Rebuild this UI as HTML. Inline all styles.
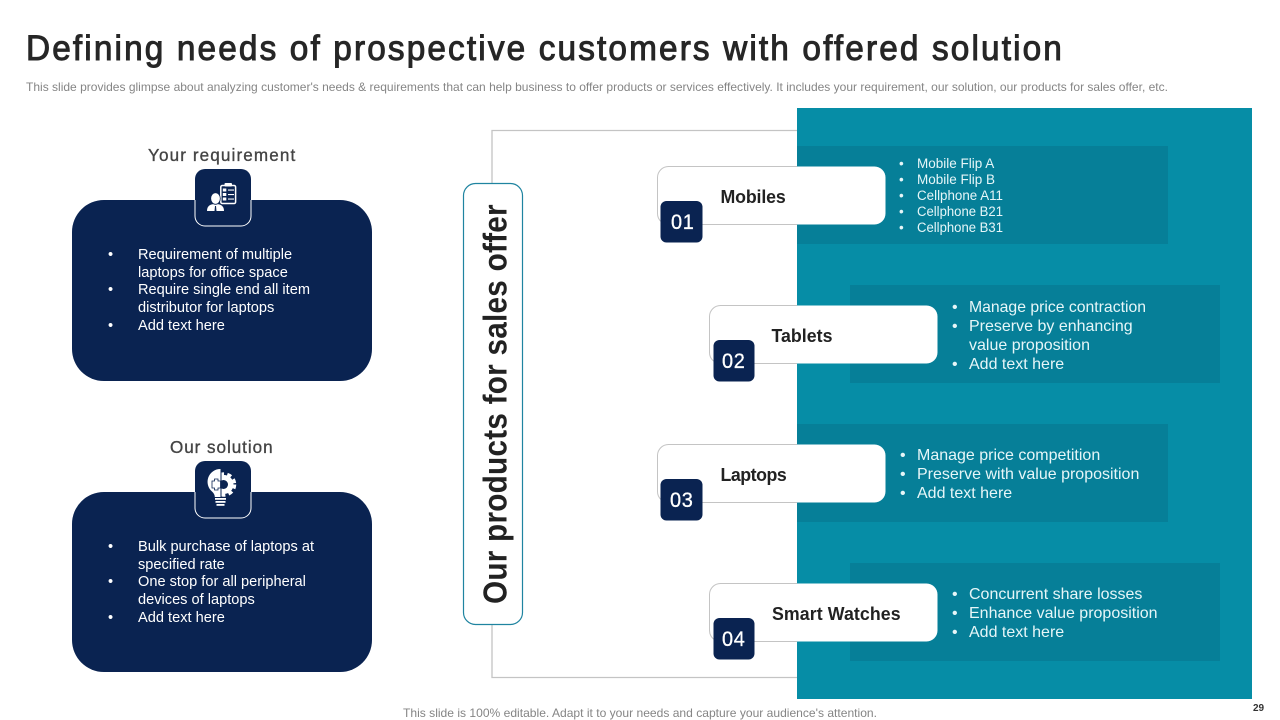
<!DOCTYPE html>
<html lang="en">
<head>
<meta charset="utf-8">
<title>Defining needs of prospective customers</title>
<style>
html,body{margin:0;padding:0;background:#fff;width:1280px;height:720px;overflow:hidden}
svg{display:block}
text{font-family:"Liberation Sans",Arial,sans-serif}
.l{fill:#fff;font-size:14.6px}
.m{fill:#e6f6f8;font-size:16px}
.s{fill:#e6f6f8;font-size:13.5px}
.h{fill:#222;font-size:18.5px;font-weight:bold}
.n{fill:#fff;font-size:21px;stroke:#fff;stroke-width:.3px}
.hd{fill:#444;font-size:18px;stroke:#444;stroke-width:.35px}
</style>
</head>
<body>
<svg width="1280" height="720" viewBox="0 0 1280 720" xmlns="http://www.w3.org/2000/svg">
<defs>
<clipPath id="leftOfPanel"><rect x="0" y="0" width="797" height="720"/></clipPath>
<clipPath id="gearHalf"><rect x="221.500" y="460" width="20" height="50"/></clipPath>
</defs>
<rect width="1280" height="720" fill="#fff"/>

<text transform="translate(26,60) scale(.94,1)" font-size="35.500" fill="#262626" stroke="#262626" stroke-width="1" textLength="1102" lengthAdjust="spacing">Defining needs of prospective customers with offered solution</text>
<text x="26" y="91" font-size="12" fill="#858585" textLength="1142" lengthAdjust="spacingAndGlyphs">This slide provides glimpse about analyzing customer's needs &amp; requirements that can help business to offer products or services effectively.  It includes your requirement, our solution, our products for sales offer, etc.</text>

<!-- Teal panel -->
<rect x="797" y="108" width="455" height="591" fill="#068da6"/>
<rect x="797" y="146" width="371" height="98" fill="#067f98"/>
<rect x="850" y="285" width="370" height="98" fill="#067f98"/>
<rect x="797" y="424" width="371" height="98" fill="#067f98"/>
<rect x="850" y="563" width="370" height="98" fill="#067f98"/>

<!-- Connector -->
<path d="M492 183V130.500H797M492 625V677.500H797" fill="none" stroke="#c4c4c4" stroke-width="1.300"/>

<!-- Vertical pill -->
<rect x="463.500" y="183.500" width="59" height="441" rx="12" fill="#fff" stroke="#1f84a0" stroke-width="1.200"/>
<text transform="translate(506.500,604) rotate(-90) scale(.9,1)" font-size="33" font-weight="bold" fill="#222" textLength="444" lengthAdjust="spacing">Our products for sales offer</text>

<!-- Left cards -->
<text transform="translate(148,161) scale(.95,1)" class="hd" textLength="155" lengthAdjust="spacing">Your requirement</text>
<rect x="72" y="200" width="300" height="181" rx="32" fill="#0a2351"/>
<rect x="195" y="169" width="56" height="57" rx="10" fill="#0a2351" stroke="#fff" stroke-width="1"/>
<rect x="194" y="168" width="58" height="31" fill="#fff"/>
<path d="M195 200V179a10 10 0 0 1 10-10h36a10 10 0 0 1 10 10v21Z" fill="#0a2351"/>
<!-- requirement icon -->
<g>
 <rect x="220.800" y="185.500" width="14.800" height="18" rx="1.500" fill="#0a2351" stroke="#fff" stroke-width="1.500"/>
 <rect x="224.500" y="183" width="7.500" height="3.500" rx="1" fill="#fff"/>
 <rect x="222.800" y="188.500" width="3.500" height="3" fill="#fff"/><rect x="228" y="189.500" width="6" height="1.100" fill="#fff"/>
 <rect x="222.800" y="193" width="3.500" height="3" fill="#fff"/><rect x="228" y="194" width="6" height="1.100" fill="#fff"/>
 <rect x="222.800" y="197.500" width="3.500" height="3" fill="#fff"/><rect x="228" y="198.500" width="6" height="1.100" fill="#fff"/>
 <path d="M207 211c0-5 3-7 8.500-7s8.500 2 8.500 7Z" fill="#fff"/>
 <ellipse cx="215.500" cy="198.500" rx="4.800" ry="5.800" fill="#fff" stroke="#0a2351" stroke-width=".8"/>
 <path d="M215 206h1l.5 5h-2Z" fill="#0a2351"/>
</g>
<text x="108" y="259" class="l">•</text>
<text x="138" y="259" class="l">Requirement of multiple</text>
<text x="138" y="277" class="l">laptops for office space</text>
<text x="108" y="294" class="l">•</text>
<text x="138" y="294" class="l">Require single end all item</text>
<text x="138" y="312" class="l">distributor for laptops</text>
<text x="108" y="330" class="l">•</text>
<text x="138" y="330" class="l">Add text here</text>

<text transform="translate(170,453) scale(.95,1)" class="hd" textLength="108" lengthAdjust="spacing">Our solution</text>
<rect x="72" y="492" width="300" height="180" rx="32" fill="#0a2351"/>
<rect x="195" y="461" width="56" height="57" rx="10" fill="#0a2351" stroke="#fff" stroke-width="1"/>
<rect x="194" y="460" width="58" height="32" fill="#fff"/>
<path d="M195 492V471a10 10 0 0 1 10-10h36a10 10 0 0 1 10 10v21Z" fill="#0a2351"/>
<!-- bulb/gear icon -->
<g>
 <path d="M220.500 469a12.800 12.800 0 0 0-8.500 22.500c1.800 1.600 2.800 3.500 2.800 5.500h5.700Z" fill="#fff"/>
 <rect x="215" y="498" width="11" height="1.800" fill="#fff"/>
 <rect x="215.500" y="501" width="10" height="1.800" fill="#fff"/>
 <rect x="216.500" y="504" width="8" height="1.800" fill="#fff"/>
 <g clip-path="url(#gearHalf)">
  <circle cx="224" cy="484.500" r="9.500" fill="#fff"/>
  <circle cx="224" cy="484.500" r="10.500" fill="none" stroke="#fff" stroke-width="3.500" stroke-dasharray="4.200 3.300"/>
 </g>
 <circle cx="223.500" cy="484.500" r="4.500" fill="#0a2351"/>
 <path d="M212 481h2.500v-2h3.500v2h2.500v7h-2.500v2h-3.500v-2h-2.500Z" fill="#fff" stroke="#0a2351" stroke-width=".8"/>
</g>
<text x="108" y="551" class="l">•</text>
<text x="138" y="551" class="l">Bulk purchase of laptops at</text>
<text x="138" y="569" class="l">specified rate</text>
<text x="108" y="586" class="l">•</text>
<text x="138" y="586" class="l">One stop for all peripheral</text>
<text x="138" y="604" class="l">devices of laptops</text>
<text x="108" y="622" class="l">•</text>
<text x="138" y="622" class="l">Add text here</text>

<!-- Card 1 -->
<rect x="657.500" y="166.500" width="228" height="58" rx="11" fill="#fff"/>
<rect x="657.500" y="166.500" width="228" height="58" rx="11" fill="none" stroke="#c4c4c4" stroke-width="1" clip-path="url(#leftOfPanel)"/>
<rect x="660.500" y="201" width="42" height="41.500" rx="6" fill="#0a2351"/>
<text transform="translate(671,229) scale(.95,1)" class="n" textLength="24" lengthAdjust="spacing">01</text>
<text transform="translate(720.500,203) scale(.96,1)" class="h" textLength="68" lengthAdjust="spacing">Mobiles</text>
<text x="899" y="168" class="s">•</text><text x="917" y="168" class="s">Mobile Flip A</text>
<text x="899" y="184" class="s">•</text><text x="917" y="184" class="s">Mobile Flip B</text>
<text x="899" y="200" class="s">•</text><text x="917" y="200" class="s" textLength="86" lengthAdjust="spacingAndGlyphs">Cellphone  A11</text>
<text x="899" y="216" class="s">•</text><text x="917" y="216" class="s" textLength="86" lengthAdjust="spacingAndGlyphs">Cellphone  B21</text>
<text x="899" y="232" class="s">•</text><text x="917" y="232" class="s" textLength="86" lengthAdjust="spacingAndGlyphs">Cellphone  B31</text>

<!-- Card 2 -->
<rect x="709.500" y="305.500" width="228" height="58" rx="11" fill="#fff"/>
<rect x="709.500" y="305.500" width="228" height="58" rx="11" fill="none" stroke="#c4c4c4" stroke-width="1" clip-path="url(#leftOfPanel)"/>
<rect x="713.500" y="340" width="41" height="41.500" rx="6" fill="#0a2351"/>
<text transform="translate(722,368) scale(.95,1)" class="n" textLength="24" lengthAdjust="spacing">02</text>
<text transform="translate(771.500,342) scale(.96,1)" class="h" textLength="63.500" lengthAdjust="spacing">Tablets</text>
<text x="952" y="312" class="m">•</text><text x="969" y="312" class="m" textLength="177" lengthAdjust="spacingAndGlyphs">Manage price contraction</text>
<text x="952" y="331" class="m">•</text><text x="969" y="331" class="m">Preserve by enhancing</text>
<text x="969" y="350" class="m">value proposition</text>
<text x="952" y="369" class="m">•</text><text x="969" y="369" class="m">Add text here</text>

<!-- Card 3 -->
<rect x="657.500" y="444.500" width="228" height="58" rx="11" fill="#fff"/>
<rect x="657.500" y="444.500" width="228" height="58" rx="11" fill="none" stroke="#c4c4c4" stroke-width="1" clip-path="url(#leftOfPanel)"/>
<rect x="660.500" y="479" width="42" height="41.500" rx="6" fill="#0a2351"/>
<text transform="translate(670,507) scale(.95,1)" class="n" textLength="24" lengthAdjust="spacing">03</text>
<text transform="translate(720.500,481) scale(.96,1)" class="h" textLength="69" lengthAdjust="spacing">Laptops</text>
<text x="900" y="460" class="m">•</text><text x="917" y="460" class="m">Manage price competition</text>
<text x="900" y="479" class="m">•</text><text x="917" y="479" class="m">Preserve with value proposition</text>
<text x="900" y="498" class="m">•</text><text x="917" y="498" class="m">Add text here</text>

<!-- Card 4 -->
<rect x="709.500" y="583.500" width="228" height="58" rx="11" fill="#fff"/>
<rect x="709.500" y="583.500" width="228" height="58" rx="11" fill="none" stroke="#c4c4c4" stroke-width="1" clip-path="url(#leftOfPanel)"/>
<rect x="713.500" y="618" width="41" height="41.500" rx="6" fill="#0a2351"/>
<text transform="translate(722,646) scale(.95,1)" class="n" textLength="24" lengthAdjust="spacing">04</text>
<text transform="translate(772,620) scale(.96,1)" class="h" textLength="134" lengthAdjust="spacing">Smart Watches</text>
<text x="952" y="599" class="m">•</text><text x="969" y="599" class="m">Concurrent  share losses</text>
<text x="952" y="618" class="m">•</text><text x="969" y="618" class="m">Enhance value proposition</text>
<text x="952" y="637" class="m">•</text><text x="969" y="637" class="m">Add text here</text>

<!-- Footer -->
<text x="403" y="717" font-size="12" fill="#858585" textLength="474" lengthAdjust="spacingAndGlyphs">This slide is 100% editable. Adapt it to your needs and capture your audience's attention.</text>
<text x="1253" y="711" font-size="10" font-weight="bold" fill="#333">29</text>
</svg>
</body>
</html>
